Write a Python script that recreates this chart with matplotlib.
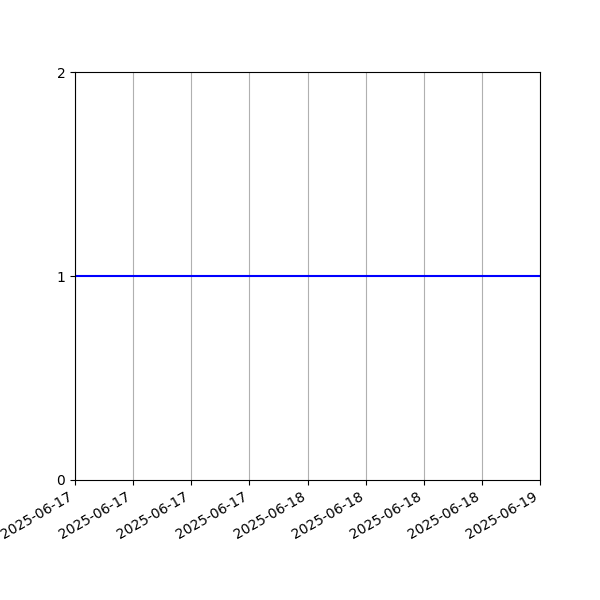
import datetime as dt
import matplotlib
matplotlib.use("Agg")
import matplotlib.pyplot as plt
import matplotlib.dates as mdates

# Data: constant value over two days
dates = [dt.datetime(2025, 6, 17, 0, 0), dt.datetime(2025, 6, 19, 0, 0)]
values = [1, 1]
y_ticks = [0, 1, 2]

fig, ax = plt.subplots(figsize=(6, 6), dpi=100)
ax.plot(dates, values, color="blue")

ax.set_xlim(dates[0], dates[-1])
ax.set_ylim(0, 2)
ax.set_yticks(y_ticks)
ax.xaxis.set_major_locator(mdates.HourLocator(byhour=[0, 6, 12, 18]))
ax.xaxis.set_major_formatter(mdates.DateFormatter("%Y-%m-%d"))
ax.grid(axis="x")
fig.autofmt_xdate()

fig.savefig("out.png")
